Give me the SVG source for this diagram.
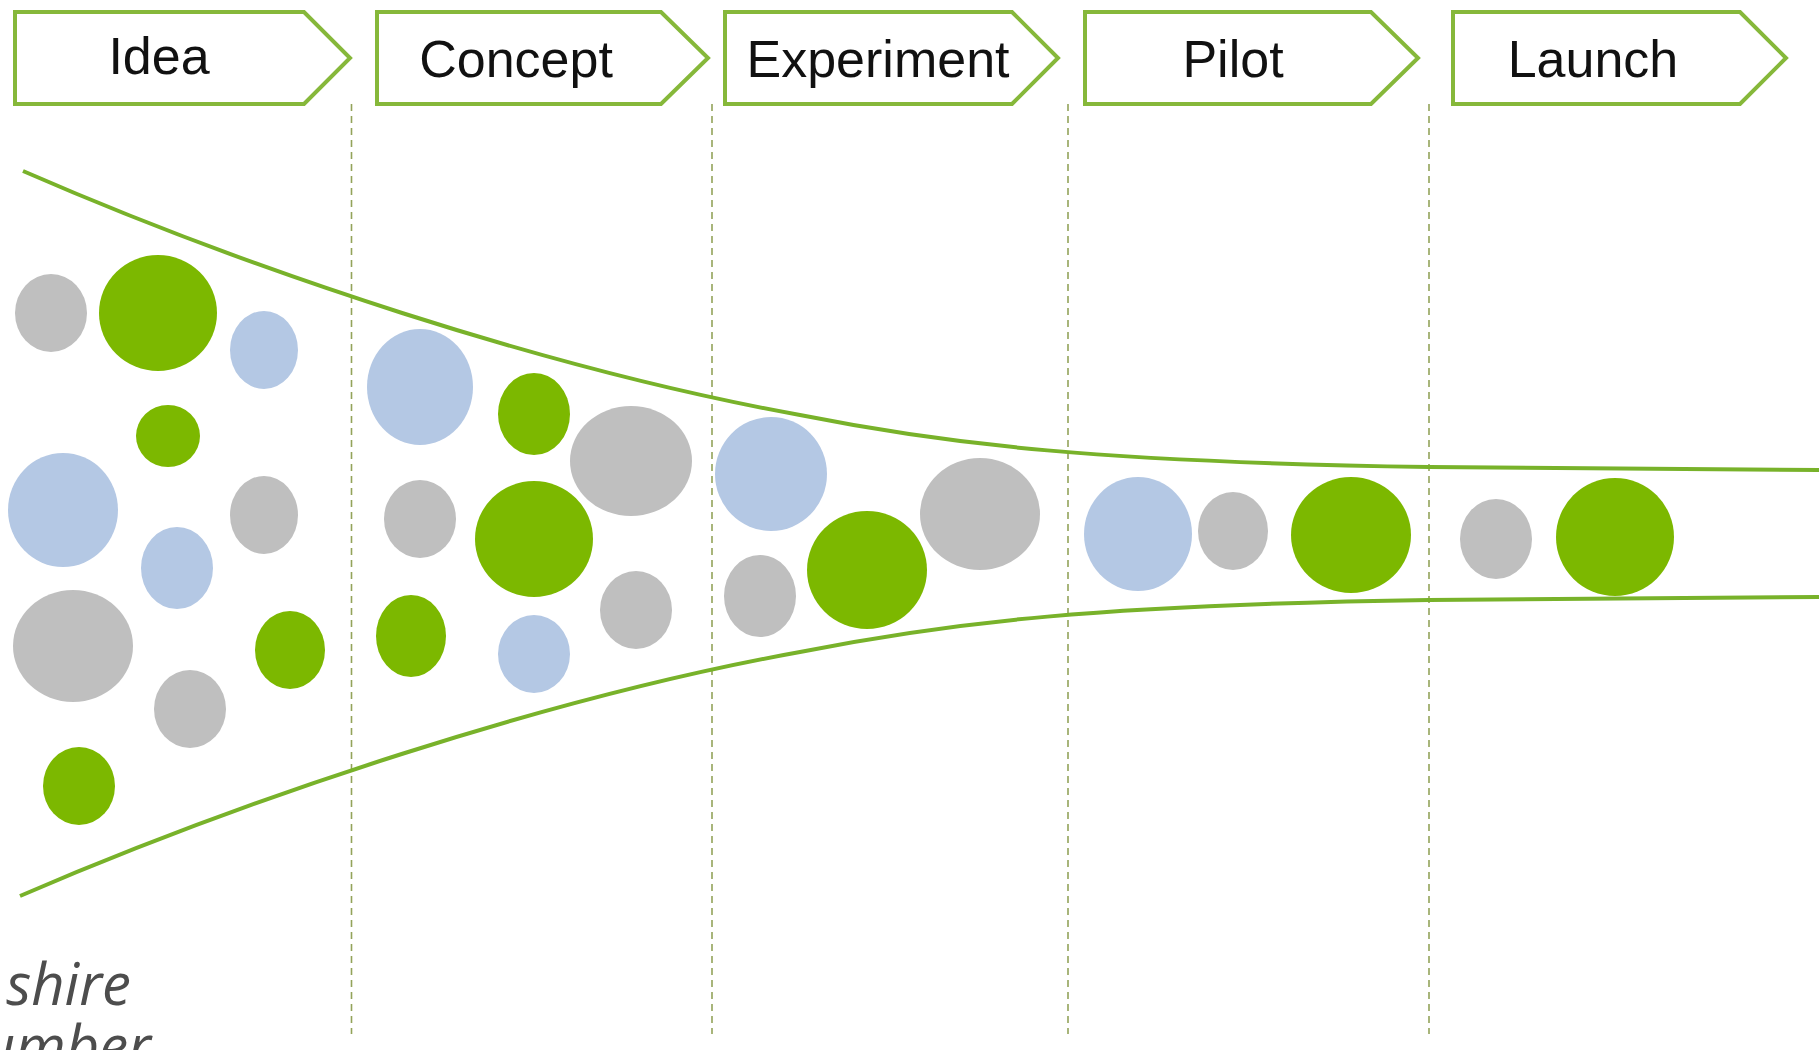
<svg xmlns="http://www.w3.org/2000/svg" width="1819" height="1050" viewBox="0 0 1819 1050">
<style>
.box{fill:#ffffff;stroke:#86b83a;stroke-width:4;stroke-linejoin:miter}
.lbl{font-family:"Liberation Sans",Arial,sans-serif;font-size:52px;fill:#111111;text-anchor:middle}
.div{stroke:#93a35a;stroke-width:1.6;stroke-dasharray:7 5;fill:none}
.funnel{fill:none;stroke:#78b22a;stroke-width:4}
.g{fill:#7cb800}
.b{fill:#b4c8e4}
.y{fill:#bfbfbf}
.cap{font-family:"Open Sans",Lato,sans-serif;font-style:italic;font-size:58px;fill:#4d4d4d;text-anchor:end}
</style>
<rect width="1819" height="1050" fill="#ffffff"/>
<g id="stage-idea">
<polygon class="box" points="15,12 304,12 350,58 304,104 15,104"/>
<text class="lbl" x="159" y="74">Idea</text>
</g>
<g id="stage-concept">
<polygon class="box" points="377,12 661,12 708,58 661,104 377,104"/>
<text class="lbl" x="516" y="77">Concept</text>
</g>
<g id="stage-experiment">
<polygon class="box" points="725,12 1012,12 1058,58 1012,104 725,104"/>
<text class="lbl" x="878" y="77">Experiment</text>
</g>
<g id="stage-pilot">
<polygon class="box" points="1085,12 1371,12 1418,58 1371,104 1085,104"/>
<text class="lbl" x="1233" y="77">Pilot</text>
</g>
<g id="stage-launch">
<polygon class="box" points="1453,12 1740,12 1786,58 1740,104 1453,104"/>
<text class="lbl" x="1593" y="77">Launch</text>
</g>
<g id="connectors">
<line class="div" x1="351.5" y1="104" x2="351.5" y2="1034"/>
<line class="div" x1="712" y1="104" x2="712" y2="1034"/>
<line class="div" x1="1068" y1="104" x2="1068" y2="1034"/>
<line class="div" x1="1429" y1="104" x2="1429" y2="1034"/>
<path class="funnel" d="M23,171 C250,270 550,370 800,415 C950,445 1100,462 1429,467 L1819,470"/>
<path class="funnel" d="M20,896 C250,797 550,697 800,652 C950,622 1100,605 1429,600 L1819,597"/>
</g>
<g id="ideas">
<ellipse class="y" cx="51" cy="313" rx="36" ry="39"/>
<ellipse class="g" cx="158" cy="313" rx="59" ry="58"/>
<ellipse class="b" cx="264" cy="350" rx="34" ry="39"/>
<ellipse class="g" cx="168" cy="436" rx="32" ry="31"/>
<ellipse class="b" cx="63" cy="510" rx="55" ry="57"/>
<ellipse class="y" cx="264" cy="515" rx="34" ry="39"/>
<ellipse class="b" cx="177" cy="568" rx="36" ry="41"/>
<ellipse class="y" cx="73" cy="646" rx="60" ry="56"/>
<ellipse class="g" cx="290" cy="650" rx="35" ry="39"/>
<ellipse class="y" cx="190" cy="709" rx="36" ry="39"/>
<ellipse class="g" cx="79" cy="786" rx="36" ry="39"/>
</g>
<g id="concepts">
<ellipse class="b" cx="420" cy="387" rx="53" ry="58"/>
<ellipse class="g" cx="534" cy="414" rx="36" ry="41"/>
<ellipse class="y" cx="631" cy="461" rx="61" ry="55"/>
<ellipse class="y" cx="420" cy="519" rx="36" ry="39"/>
<ellipse class="g" cx="534" cy="539" rx="59" ry="58"/>
<ellipse class="y" cx="636" cy="610" rx="36" ry="39"/>
<ellipse class="g" cx="411" cy="636" rx="35" ry="41"/>
<ellipse class="b" cx="534" cy="654" rx="36" ry="39"/>
</g>
<g id="experiments">
<ellipse class="b" cx="771" cy="474" rx="56" ry="57"/>
<ellipse class="y" cx="980" cy="514" rx="60" ry="56"/>
<ellipse class="y" cx="760" cy="596" rx="36" ry="41"/>
<ellipse class="g" cx="867" cy="570" rx="60" ry="59"/>
</g>
<g id="pilots">
<ellipse class="b" cx="1138" cy="534" rx="54" ry="57"/>
<ellipse class="y" cx="1233" cy="531" rx="35" ry="39"/>
<ellipse class="g" cx="1351" cy="535" rx="60" ry="58"/>
</g>
<g id="launches">
<ellipse class="y" cx="1496" cy="539" rx="36" ry="40"/>
<ellipse class="g" cx="1615" cy="537" rx="59" ry="59"/>
</g>
<g id="caption">
<text class="cap" x="131" y="1005">shire</text>
<text class="cap" x="151" y="1067">umber</text>
</g>
</svg>
